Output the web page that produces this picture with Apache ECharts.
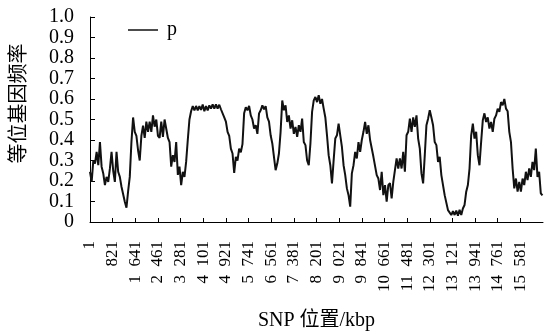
<!DOCTYPE html>
<html><head><meta charset="utf-8">
<script src="https://cdn.jsdelivr.net/npm/echarts@6/dist/echarts.min.js"></script>
<style>html,body{margin:0;padding:0;background:#fff}#c{width:548px;height:336px}</style>
</head><body><div id="c"></div>
<script>
const seriesName = 'p';
const snpStep = 60;          // SNP spacing between sampled points
const tickInterval = 820;    // SNPs between x ticks
const axisMaxSnp = 16400;
const xTickLabels = ['1','821','1 641','2 461','3 281','4 101','4 921','5 741','6 561','7 381','8 201','9 021','9 841','10 661','11 481','12 301','13 121','13 941','14 761','15 581'];
const yTickLabels = ['0','0.1','0.2','0.3','0.4','0.5','0.6','0.7','0.8','0.9','1.0'];

const freqPart1 = [0.245,0.196,0.30,0.285,0.342,0.277,0.39,0.27,0.237,0.18,0.22,0.196,0.26,0.342,0.25,0.196,0.342,0.245,0.22,0.172,0.164,0.099,0.07,0.15,0.22,0.39,0.51,0.44,0.42,0.35,0.30,0.42,0.47,0.41,0.49,0.44,0.49,0.44,0.52,0.465,0.50,0.42,0.41,0.49,0.415,0.50];
const freqPart2 = [0.50,0.41,0.39,0.27,0.326,0.293,0.39,0.23,0.27,0.18,0.245,0.22,0.293,0.40,0.50,0.54,0.566,0.544,0.566,0.545,0.565,0.547,0.573,0.54,0.565,0.544,0.569,0.553,0.574,0.553,0.574,0.553,0.572,0.55,0.555,0.51,0.49,0.44,0.42,0.358,0.334,0.24,0.318,0.30,0.358,0.34];
const freqPart3 = [0.38,0.53,0.56,0.545,0.566,0.52,0.50,0.456,0.472,0.43,0.53,0.545,0.569,0.55,0.565,0.51,0.49,0.423,0.383,0.318,0.253,0.285,0.334,0.44,0.593,0.545,0.569,0.488,0.52,0.456,0.496,0.43,0.464,0.415,0.472,0.44,0.504,0.39,0.375,0.30,0.277,0.383,0.537,0.593,0.61,0.585];
const freqPart4 = [0.618,0.577,0.60,0.553,0.51,0.423,0.326,0.277,0.188,0.30,0.407,0.423,0.48,0.423,0.366,0.277,0.229,0.164,0.131,0.075,0.237,0.277,0.342,0.31,0.39,0.342,0.40,0.44,0.488,0.43,0.472,0.40,0.40,0.318,0.326,0.229,0.212,0.156,0.245,0.131,0.18,0.099,0.18,0.19,0.115];
const freqPart5 = [0.196,0.20,0.31,0.261,0.31,0.261,0.342,0.245,0.423,0.44,0.504,0.44,0.51,0.464,0.52,0.407,0.358,0.237,0.188,0.326,0.472,0.504,0.545,0.51,0.472,0.39,0.375,0.293,0.318,0.229,0.237,0.131,0.123,0.058,0.058,0.034,0.053,0.034,0.056,0.031,0.06,0.034,0.066,0.083,0.148];
const freqPart6 = [0.18,0.26,0.423,0.48,0.407,0.44,0.326,0.277,0.39,0.496,0.53,0.488,0.51,0.456,0.488,0.44,0.504,0.52,0.553,0.537,0.585,0.569,0.60,0.553,0.54,0.44,0.39,0.261,0.164,0.212,0.148,0.196,0.148,0.212,0.18,0.245,0.204,0.261,0.22,0.293,0.253,0.358,0.22,0.245,0.14,0.13];

const freq = [].concat(freqPart1, freqPart2, freqPart3, freqPart4, freqPart5, freqPart6);
const seriesData = freq.map((v, i) => [i * snpStep, v]);

const serif = "'Liberation Serif','Noto Sans CJK SC'";
const chart = echarts.init(document.getElementById('c'), null, {renderer: 'canvas'});
chart.setOption({
  animation: false,
  backgroundColor: '#fff',
  grid: {left: 90, right: 5, top: 17, bottom: 114, containLabel: false, outerBoundsMode: 'none'},
  legend: {
    left: 128, top: 20, padding: 0,
    icon: 'rect', itemWidth: 30, itemHeight: 1.5,
    textStyle: {fontSize: 20, fontFamily: serif, color: '#000', padding: [0, 0, 0, 4]},
    data: [seriesName]
  },
  xAxis: {
    type: 'value', min: 0, max: axisMaxSnp, interval: tickInterval,
    name: 'SNP 位置/kbp', nameLocation: 'middle', nameGap: 89,
    nameTextStyle: {fontSize: 20, fontFamily: serif, color: '#000'},
    axisLine: {lineStyle: {color: '#000', width: 1}},
    axisTick: {inside: true, length: 4, lineStyle: {color: '#000'}},
    splitLine: {show: false},
    axisLabel: {
      rotate: 90, margin: 19, fontSize: 17, fontFamily: serif, color: '#000',
      showMinLabel: true, showMaxLabel: false, hideOverlap: false,
      formatter: v => { const k = Math.round(v / tickInterval); return (xTickLabels[k] || '').replace(' ', '\u2002'); }
    }
  },
  yAxis: {
    type: 'value', min: 0, max: 1, interval: 0.1,
    name: '等位基因频率', nameLocation: 'middle', nameGap: 60,
    nameTextStyle: {fontSize: 20, fontFamily: serif, color: '#000', padding: [0, 0, 0, 32]},
    axisLine: {show: true, lineStyle: {color: '#000', width: 1}},
    axisTick: {show: true, inside: true, length: 5, lineStyle: {color: '#000'}},
    splitLine: {show: false},
    axisLabel: {
      margin: 16, fontSize: 20, fontFamily: serif, color: '#000',
      showMinLabel: true, showMaxLabel: true, hideOverlap: false,
      formatter: v => yTickLabels[Math.round(v * 10)]
    }
  },
  series: [{
    name: seriesName, type: 'line', data: seriesData,
    showSymbol: false, symbol: 'none', sampling: null,
    lineStyle: {color: '#111', width: 2}, itemStyle: {color: '#111'},
    silent: true
  }]
});
</script>
</body></html>
